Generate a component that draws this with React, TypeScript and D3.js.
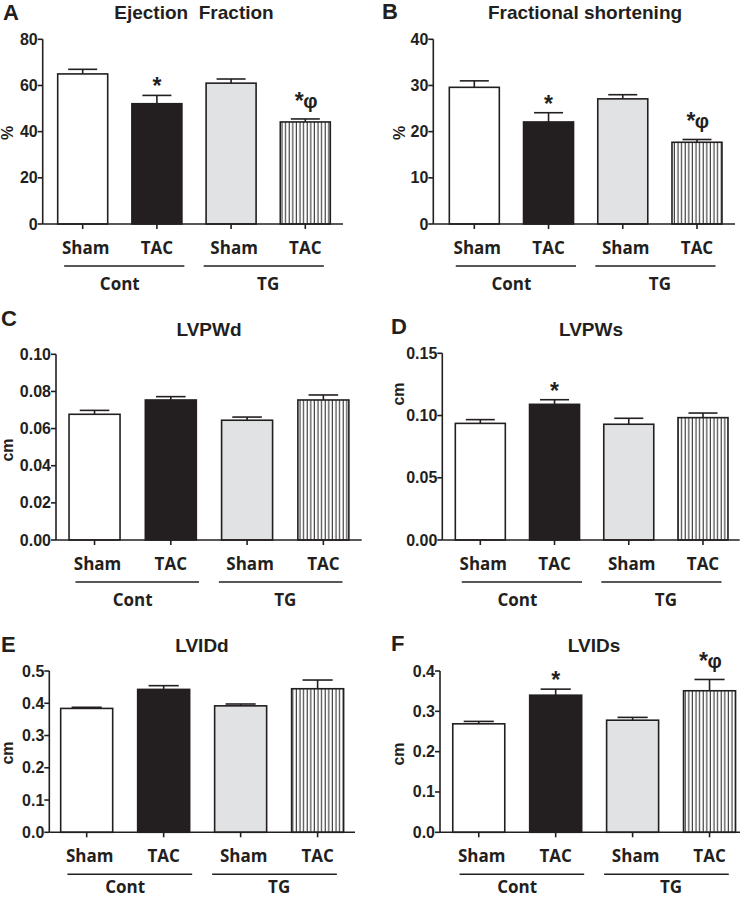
import React, { useEffect } from "react";
import * as d3 from "d3";

// ---------- DATA ----------
const conditions = ["Sham", "TAC", "Sham", "TAC"];
const groups = ["Cont", "TG"];

const panelLetters = ["A", "B", "C", "D", "E", "F"];
const panelTitles = ["Ejection  Fraction", "Fractional shortening", "LVPWd", "LVPWs", "LVIDd", "LVIDs"];
const yLabels = ["%", "%", "cm", "cm", "cm", "cm"];

const efMean = [65.0, 52.1, 61.0, 44.2];
const efErr = [2.0, 3.6, 1.8, 1.3];
const fsMean = [29.6, 22.1, 27.1, 17.7];
const fsErr = [1.4, 2.0, 0.9, 0.6];
const lvpwdMean = [0.0677, 0.0754, 0.0645, 0.0754];
const lvpwdErr = [0.0021, 0.0018, 0.0017, 0.0027];
const lvpwsMean = [0.0937, 0.109, 0.093, 0.0983];
const lvpwsErr = [0.003, 0.0037, 0.0048, 0.0037];
const lviddMean = [0.384, 0.443, 0.392, 0.445];
const lviddErr = [0.0035, 0.0115, 0.0057, 0.027];
const lvidsMean = [0.269, 0.34, 0.278, 0.351];
const lvidsErr = [0.006, 0.015, 0.007, 0.028];

const efTicks = [0, 20, 40, 60, 80];
const fsTicks = [0, 10, 20, 30, 40];
const lvpwdTicks = [0, 0.02, 0.04, 0.06, 0.08, 0.1];
const lvpwsTicks = [0, 0.05, 0.1, 0.15];
const lviddTicks = [0, 0.1, 0.2, 0.3, 0.4, 0.5];
const lvidsTicks = [0, 0.1, 0.2, 0.3, 0.4];

const efSig = ["", "*", "", "*φ"];
const fsSig = ["", "*", "", "*φ"];
const lvpwdSig = ["", "", "", ""];
const lvpwsSig = ["", "*", "", ""];
const lviddSig = ["", "", "", ""];
const lvidsSig = ["", "*", "", "*φ"];

const means = [efMean, fsMean, lvpwdMean, lvpwsMean, lviddMean, lvidsMean];
const errs = [efErr, fsErr, lvpwdErr, lvpwsErr, lviddErr, lvidsErr];
const tickSets = [efTicks, fsTicks, lvpwdTicks, lvpwsTicks, lviddTicks, lvidsTicks];
const tickFormats = ["d", "d", ".2f", ".2f", ".1f", ".1f"];
const sigs = [efSig, fsSig, lvpwdSig, lvpwsSig, lviddSig, lvidsSig];

// ---------- LAYOUT ----------
const layouts = [
  { ax: 42.7, axEnd: 343, r0: 45.6, r1: 342.4, barW: 50, yBase: 224, yTop: 39.3, tx: 194, ty: 19, lx: 3, ly: 20, ylx: 7, yly: 133 },
  { ax: 433.3, axEnd: 735, r0: 437.2, r1: 734.1, barW: 50, yBase: 224, yTop: 39.3, tx: 585, ty: 19, lx: 382, ly: 19, ylx: 399, yly: 133 },
  { ax: 56, axEnd: 361.7, r0: 56.4, r1: 361.5, barW: 51, yBase: 540, yTop: 354.3, tx: 209, ty: 336, lx: 1, ly: 326, ylx: 7, yly: 450 },
  { ax: 442.3, axEnd: 739.7, r0: 443.2, r1: 740.1, barW: 50, yBase: 540, yTop: 353.3, tx: 591, ty: 336, lx: 391, ly: 334, ylx: 398, yly: 394 },
  { ax: 49.3, axEnd: 355, r0: 48.2, r1: 356.1, barW: 52, yBase: 832.3, yTop: 671, tx: 202, ty: 652, lx: 1, ly: 652, ylx: 7, yly: 753 },
  { ax: 440, axEnd: 740, r0: 440.3, r1: 748, barW: 52, yBase: 832.3, yTop: 671, tx: 594, ty: 652, lx: 391, ly: 651, ylx: 398, yly: 754 },
];

const INK = "#231f20";
const fills = ["#ffffff", "#231f20", "#e1e2e4", "url(#vhatch)"];
const ARIAL = "'Liberation Sans', Arial, sans-serif";
const LABEL_FONT = "'Open Sans', 'Liberation Sans', sans-serif";

function Panel({ i }: { i: number }) {
  const L = layouts[i];
  const ticks = tickSets[i];
  const yMax = ticks[ticks.length - 1];
  const y = d3.scaleLinear().domain([0, yMax]).range([L.yBase, L.yTop]);
  const x = d3.scalePoint<number>().domain([0, 1, 2, 3]).range([L.r0, L.r1]).padding(0.5);
  const step = x.step();
  const fmt = d3.format(tickFormats[i]);
  const capW = L.barW * 0.58;
  const groupSpans = [
    [x(0)! - 0.25 * step, x(1)! + 0.37 * step],
    [x(2)! - 0.37 * step, x(3)! + 0.25 * step],
  ];
  return (
    <g>
      <text x={L.lx} y={L.ly} fontFamily={ARIAL} fontWeight="bold" fontSize={22} fill={INK}>
        {panelLetters[i]}
      </text>
      <text
        x={L.tx}
        y={L.ty}
        textAnchor="middle"
        fontFamily={ARIAL}
        fontWeight="bold"
        fontSize={19}
        fill={INK}
        style={{ whiteSpace: "pre" }}
      >
        {panelTitles[i]}
      </text>
      <text
        transform={`translate(${L.ylx},${L.yly}) rotate(-90)`}
        textAnchor="middle"
        dominantBaseline="central"
        fontFamily={ARIAL}
        fontWeight="bold"
        fontSize={16}
        fill={INK}
      >
        {yLabels[i]}
      </text>
      {/* bars */}
      {means[i].map((m, k) => {
        const cx = x(k)!;
        const top = y(m);
        const et = y(m + errs[i][k]);
        return (
          <g key={k}>
            <line x1={cx} x2={cx} y1={top} y2={et} stroke={INK} strokeWidth={1.6} />
            <line x1={cx - capW / 2} x2={cx + capW / 2} y1={et} y2={et} stroke={INK} strokeWidth={1.6} />
            <rect
              x={cx - L.barW / 2}
              y={top}
              width={L.barW}
              height={L.yBase - top}
              fill={fills[k]}
              stroke={INK}
              strokeWidth={1.6}
            />
            {sigs[i][k] === "*" && (
              <text x={cx} y={et - 1} textAnchor="middle" fontFamily={ARIAL} fontWeight="bold" fontSize={23} fill={INK}>
                *
              </text>
            )}
            {sigs[i][k] === "*φ" && (
              <g>
                <text x={cx - 6} y={et - 10} textAnchor="middle" fontFamily={ARIAL} fontWeight="bold" fontSize={23} fill={INK}>
                  *
                </text>
                <text x={cx + 5} y={et - 11} textAnchor="middle" fontFamily={ARIAL} fontWeight="bold" fontSize={20} fill={INK}>
                  φ
                </text>
              </g>
            )}
          </g>
        );
      })}
      {/* y axis */}
      <line x1={L.ax} x2={L.ax} y1={L.yTop} y2={L.yBase} stroke={INK} strokeWidth={1.6} />
      {ticks.map((t) => (
        <g key={t}>
          <line x1={L.ax - 5} x2={L.ax} y1={y(t)} y2={y(t)} stroke={INK} strokeWidth={1.6} />
          <text
            x={L.ax - 5}
            y={y(t)}
            textAnchor="end"
            dominantBaseline="central"
            fontFamily={ARIAL}
            fontWeight="bold"
            fontSize={16}
            fill={INK}
          >
            {fmt(t)}
          </text>
        </g>
      ))}
      {/* x axis */}
      <line x1={L.ax} x2={L.axEnd} y1={L.yBase} y2={L.yBase} stroke={INK} strokeWidth={1.6} />
      {conditions.map((c, k) => (
        <g key={k}>
          <line x1={x(k)!} x2={x(k)!} y1={L.yBase} y2={L.yBase + 5} stroke={INK} strokeWidth={1.6} />
          <text
            x={x(k)! + (k % 2 === 0 ? 3 : 0)}
            y={L.yBase + 30}
            textAnchor="middle"
            fontFamily={LABEL_FONT}
            fontWeight="bold"
            fontSize={17}
            fill={INK}
          >
            {c}
          </text>
        </g>
      ))}
      {groups.map((g, gi) => (
        <g key={g}>
          <line
            x1={groupSpans[gi][0]}
            x2={groupSpans[gi][1]}
            y1={L.yBase + 42}
            y2={L.yBase + 42}
            stroke={INK}
            strokeWidth={1.4}
          />
          <text
            x={(x(gi * 2)! + x(gi * 2 + 1)!) / 2}
            y={Math.min(L.yBase + 66, 893)}
            textAnchor="middle"
            fontFamily={LABEL_FONT}
            fontWeight="bold"
            fontSize={17}
            fill={INK}
          >
            {g}
          </text>
        </g>
      ))}
    </g>
  );
}

export default function App() {
  useEffect(() => {
    document.body.style.margin = "0";
  }, []);
  return (
    <svg width={748} height={898} style={{ position: "absolute", left: 0, top: 0, background: "#fff" }}>
      <defs>
        <pattern id="vhatch" patternUnits="userSpaceOnUse" width={3.6} height={10}>
          <rect width={3.6} height={10} fill="#ffffff" />
          <line x1={1.2} x2={1.2} y1={0} y2={10} stroke="#333333" strokeWidth={1.1} />
        </pattern>
      </defs>
      <rect width={748} height={898} fill="#fff" />
      {[0, 1, 2, 3, 4, 5].map((i) => (
        <Panel key={i} i={i} />
      ))}
    </svg>
  );
}
